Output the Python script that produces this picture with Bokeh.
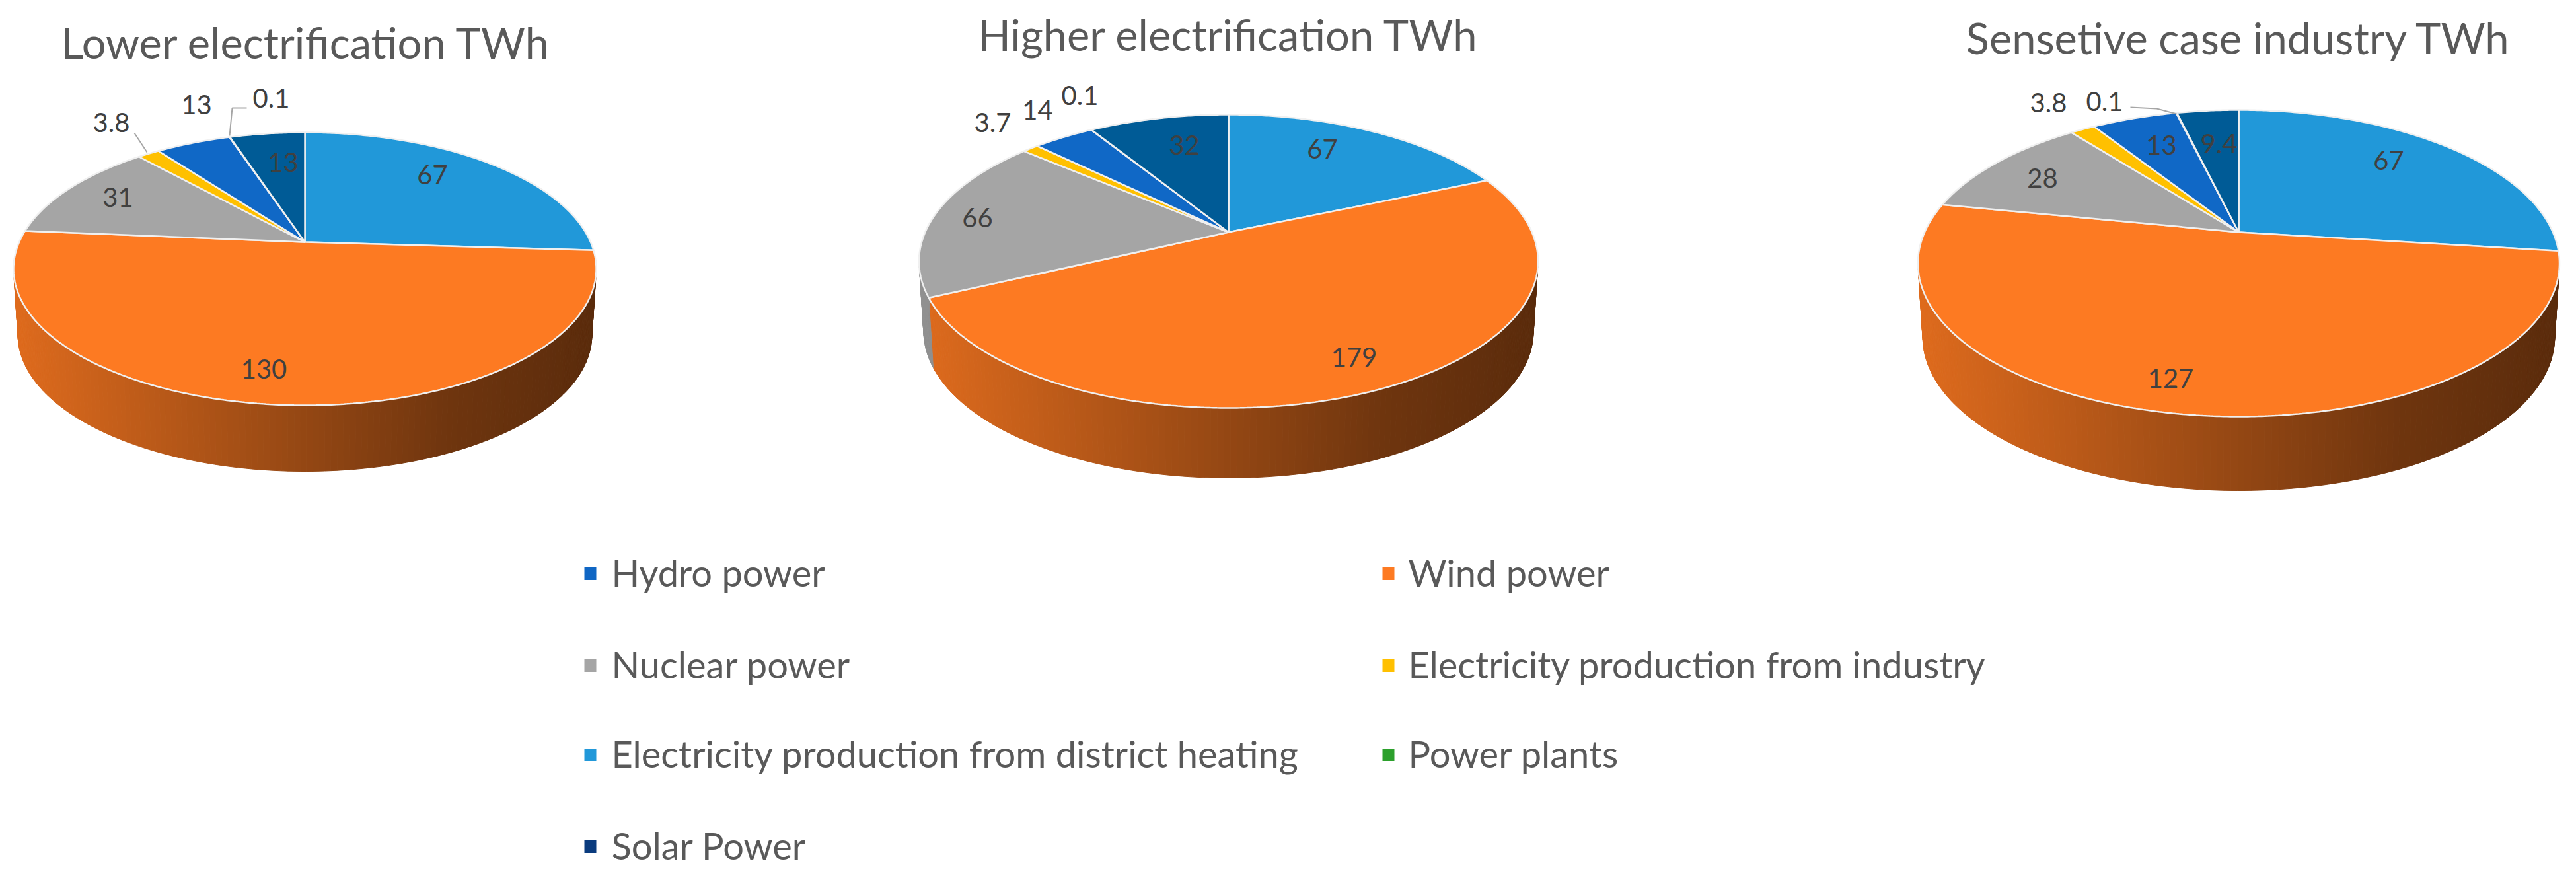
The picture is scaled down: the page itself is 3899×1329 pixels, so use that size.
import math
from bokeh.plotting import figure
from bokeh.models import Range1d
from bokeh.core.properties import value
from bokeh.embed import file_html
from bokeh.resources import INLINE

# ---- data (clockwise from 12 o'clock) ----
SLICE_NAMES = ["Electricity production from district heating", "Wind power", "Nuclear power",
               "Electricity production from industry", "Hydro power", "Power plants", "Solar Power"]
LOWER = [67, 130, 31, 3.8, 13, 0.1, 13]
HIGHER = [67, 179, 66, 3.7, 14, 0.1, 32]
SENSITIVE = [67, 127, 28, 3.8, 13, 0.1, 9.4]
TITLES = ["Lower electrification TWh", "Higher electrification TWh", "Sensetive case industry TWh"]
LEGEND_ORDER = ["Hydro power", "Wind power", "Nuclear power", "Electricity production from industry",
                "Electricity production from district heating", "Power plants", "Solar Power"]

# ---- styles ----
SLICE_COLORS = ["#2198D9", "#FD7A22", "#A5A5A5", "#FFC000", "#1068C6", "#2CA02C", "#005B96"]
LEGEND_COLORS = {"Hydro power": "#0F66C4", "Wind power": "#FD7A22", "Nuclear power": "#A5A5A5",
                 "Electricity production from industry": "#FFC000",
                 "Electricity production from district heating": "#2198D9",
                 "Power plants": "#2CA02C", "Solar Power": "#0A3B7E"}
FONT = "Lato"
TEXT = "#595959"
LABEL = "#404040"

# ---- layout of each pie: apex, half width, distance apex->top/front of the rim, wall height
PIES = [
    dict(values=LOWER, apex=(461, 366), rx=441, up=166, down=247, wall=100, title=(463, 63),
         labels=[(654, 264), (399, 558), (178, 298), (168, 185), (297, 158), (410, 148), (428, 245)],
         leaders=[[(203, 201), (222, 230)], [(373, 163), (351, 163), (347, 205)]]),
    dict(values=HIGHER, apex=(1859, 351), rx=468.5, up=178, down=266, wall=106, title=(1859, 51),
         labels=[(2001, 225), (2049, 540), (1479, 329), (1502, 185), (1570, 166), (1634, 144), (1792, 219)],
         leaders=[]),
    dict(values=SENSITIVE, apex=(3388, 351), rx=485.5, up=185, down=279, wall=112, title=(3388, 56),
         labels=[(3615, 242), (3285, 572), (3091, 269), (3100, 155), (3271, 219), (3185, 153), (3358, 217)],
         leaders=[[(3224, 162), (3264, 164), (3294, 172)]]),
]

W, H = 3883, 1313
p = figure(width=W, height=H, output_backend="svg", toolbar_location=None,
           x_range=Range1d(0, W), y_range=Range1d(H, 0),
           min_border=0, outline_line_color=None, background_fill_color="white")
p.axis.visible = False
p.grid.visible = False


def shade(color, t):
    if t < 0.75:
        f = 0.88 + (0.44 - 0.88) * t / 0.75
    else:
        f = 0.44 + (0.36 - 0.44) * (t - 0.75) / 0.25
    r, g, b = int(color[1:3], 16), int(color[3:5], 16), int(color[5:7], 16)
    return "#%02x%02x%02x" % (int(r * f), int(g * f), int(b * f))


for n_pie, pie in enumerate(PIES):
    ax, ay = pie["apex"]
    up, down = pie["up"], pie["down"]
    ratio = down / up
    k = (ratio - 1) / (ratio + 1)
    a = up * (1 + k)
    b = pie["rx"] * math.sqrt(1 - k * k)

    def proj(theta, r=1.0):
        u, v = r * math.sin(theta), -r * math.cos(theta)
        w = 1 - k * v
        return ax + b * u / w, ay + a * v / w

    total = sum(pie["values"])
    edges = [0.0]
    for val in pie["values"]:
        edges.append(edges[-1] + val / total * 2 * math.pi)

    # wall, one thin strip per degree
    sx, sy, sc = [], [], []
    for i, col in enumerate(SLICE_COLORS):
        n = max(1, int((edges[i + 1] - edges[i]) / math.radians(1)))
        for j in range(n):
            t0 = edges[i] + (edges[i + 1] - edges[i]) * j / n
            t1 = edges[i] + (edges[i + 1] - edges[i]) * (j + 1) / n
            x0, y0 = proj(t0)
            x1, y1 = proj(t1)
            bx0 = ax + (x0 - ax) * 0.985
            bx1 = ax + (x1 - ax) * 0.985
            sx.append([x0, x1, bx1, bx0])
            sy.append([y0, y1, y1 + pie["wall"], y0 + pie["wall"]])
            tt = ((x0 + x1) / 2 - (ax - pie["rx"])) / (2 * pie["rx"])
            sc.append(shade(col, tt))
    p.patches(sx, sy, fill_color=sc, line_color=sc, line_width=1)

    # top
    for i, col in enumerate(SLICE_COLORS):
        n = max(2, int((edges[i + 1] - edges[i]) / math.radians(0.5)))
        pts = [proj(edges[i] + (edges[i + 1] - edges[i]) * j / n) for j in range(n + 1)]
        p.patch([ax] + [q[0] for q in pts], [ay] + [q[1] for q in pts],
                fill_color=col, line_color="#F0F0F0", line_width=2.5)

    # leaders
    for leader in pie["leaders"]:
        p.line([q[0] for q in leader], [q[1] for q in leader], line_color="#A6A6A6", line_width=2)

    # data labels
    p.text([q[0] for q in pie["labels"]], [q[1] for q in pie["labels"]],
           text=[f"{val:g}" for val in pie["values"]], text_font=value(FONT), text_font_size="40px",
           text_color=LABEL, text_align="center", text_baseline="middle")

    # title
    p.text([pie["title"][0]], [pie["title"][1]], text=[TITLES[n_pie]], text_font=value(FONT),
           text_font_size="65px", text_color=TEXT, text_align="center", text_baseline="middle")

# legend, two columns
COL_X = [884, 2092]
TEXT_X = [925, 2131]
ROW_Y = [866, 1005, 1140, 1279]
for idx, name in enumerate(LEGEND_ORDER):
    cx = COL_X[idx % 2]
    cy = ROW_Y[idx // 2]
    p.rect([cx + 9], [cy + 2], width=18, height=19, fill_color=LEGEND_COLORS[name], line_color=None)
    p.text([TEXT_X[idx % 2]], [cy], text=[name], text_font=value(FONT), text_font_size="56px",
           text_color=TEXT, text_align="left", text_baseline="middle")

open("out.html", "w").write(file_html(p, INLINE))
